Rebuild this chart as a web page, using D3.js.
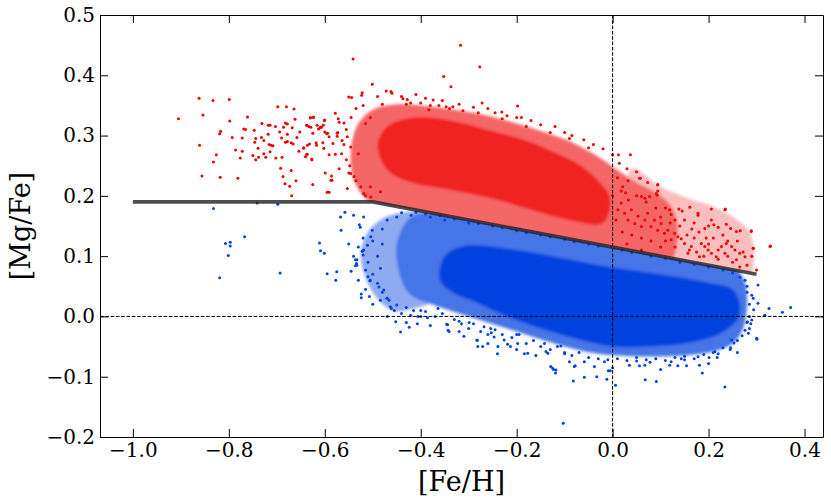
<!DOCTYPE html>
<html><head><meta charset="utf-8">
<script src="https://cdn.jsdelivr.net/npm/d3@7"></script>
<style>body{margin:0;background:#fff}svg{display:block}</style></head>
<body><svg id="c" width="831" height="502"></svg>
<script>
const xTicks=[-1.0,-0.8,-0.6,-0.4,-0.2,0.0,0.2,0.4];
const yTicks=[-0.2,-0.1,0.0,0.1,0.2,0.3,0.4,0.5];
const xDomain=[-1.0685,0.4385];
const yDomain=[-0.2,0.5];
const xLabel="[Fe/H]";
const yLabel="[Mg/Fe]";
const dividerLine=[[-1.0,0.19],[-0.5,0.19],[0.3,0.07]];

// density envelopes (sparse / moderate / saturated)
const redSparse=[[0.04,0.245],[0.10,0.215],[0.16,0.195],[0.21,0.182],[0.255,0.163],[0.285,0.14],[0.295,0.10],[0.28,0.06],[0.15,0.07],[0.05,0.09]];
const redOuter=[[-0.545,0.28],[-0.53,0.32],[-0.50,0.343],[-0.45,0.352],[-0.40,0.35],[-0.33,0.343],[-0.26,0.333],[-0.20,0.32],[-0.14,0.305],[-0.08,0.287],[-0.03,0.265],[0.01,0.243],[0.05,0.222],[0.09,0.205],[0.12,0.185],[0.135,0.15],[0.12,0.09],[0.05,0.1],[0.0,0.105],[-0.10,0.12],[-0.20,0.135],[-0.30,0.15],[-0.40,0.165],[-0.46,0.175],[-0.51,0.192],[-0.54,0.228]];
const redInner=[[-0.49,0.285],[-0.47,0.315],[-0.43,0.328],[-0.38,0.33],[-0.32,0.322],[-0.25,0.307],[-0.18,0.292],[-0.12,0.272],[-0.07,0.252],[-0.03,0.225],[-0.005,0.195],[-0.02,0.155],[-0.08,0.158],[-0.15,0.172],[-0.25,0.195],[-0.34,0.21],[-0.42,0.222],[-0.47,0.243]];
const blueSparse=[[-0.525,0.10],[-0.51,0.14],[-0.48,0.162],[-0.44,0.172],[-0.38,0.17],[-0.36,0.12],[-0.37,0.03],[-0.42,0.012],[-0.46,0.01],[-0.50,0.04]];
const blueOuter=[[-0.44,0.06],[-0.45,0.12],[-0.42,0.165],[-0.36,0.172],[-0.30,0.17],[-0.20,0.155],[-0.10,0.14],[0.0,0.125],[0.10,0.11],[0.20,0.095],[0.25,0.085],[0.275,0.058],[0.28,0.02],[0.272,-0.02],[0.25,-0.045],[0.20,-0.06],[0.12,-0.066],[0.04,-0.066],[-0.03,-0.062],[-0.09,-0.052],[-0.15,-0.038],[-0.22,-0.02],[-0.30,0.0],[-0.37,0.018],[-0.42,0.035]];
const blueInner=[[-0.36,0.06],[-0.35,0.1],[-0.31,0.117],[-0.20,0.11],[-0.10,0.096],[0.0,0.081],[0.10,0.07],[0.20,0.056],[0.25,0.045],[0.265,0.02],[0.26,-0.005],[0.22,-0.03],[0.15,-0.045],[0.08,-0.05],[0.0,-0.05],[-0.08,-0.036],[-0.15,-0.02],[-0.22,0.0],[-0.29,0.025],[-0.33,0.038]];

const redPoints=[[-0.905,0.328],[-0.862,0.362],[-0.833,0.358],[-0.799,0.360],[-0.854,0.334],[-0.861,0.284],[-0.856,0.233],[-0.832,0.256],[-0.826,0.268],[-0.818,0.231],[-0.819,0.303],[-0.817,0.307],[-0.798,0.324],[-0.793,0.297],[-0.786,0.276],[-0.781,0.229],[-0.776,0.263],[-0.772,0.274],[-0.772,0.296],[-0.769,0.311],[-0.765,0.310],[-0.761,0.331],[-0.750,0.267],[-0.747,0.309],[-0.746,0.289],[-0.744,0.295],[-0.744,0.260],[-0.739,0.279],[-0.738,0.264],[-0.732,0.297],[-0.731,0.320],[-0.727,0.292],[-0.727,0.270],[-0.723,0.264],[-0.718,0.317],[-0.714,0.317],[-0.718,0.302],[-0.716,0.285],[-0.712,0.284],[-0.708,0.283],[-0.714,0.273],[-0.703,0.315],[-0.702,0.263],[-0.698,0.348],[-0.694,0.306],[-0.692,0.246],[-0.690,0.296],[-0.689,0.264],[-0.687,0.232],[-0.686,0.314],[-0.683,0.220],[-0.682,0.321],[-0.678,0.319],[-0.682,0.289],[-0.678,0.290],[-0.680,0.348],[-0.678,0.302],[-0.673,0.216],[-0.670,0.242],[-0.669,0.200],[-0.670,0.288],[-0.666,0.286],[-0.668,0.313],[-0.664,0.344],[-0.662,0.327],[-0.660,0.225],[-0.658,0.297],[-0.654,0.274],[-0.652,0.306],[-0.644,0.279],[-0.640,0.265],[-0.637,0.269],[-0.637,0.317],[-0.633,0.315],[-0.636,0.284],[-0.632,0.286],[-0.630,0.329],[-0.624,0.330],[-0.629,0.314],[-0.627,0.261],[-0.625,0.219],[-0.625,0.304],[-0.618,0.288],[-0.617,0.284],[-0.613,0.311],[-0.610,0.313],[-0.607,0.314],[-0.603,0.317],[-0.604,0.288],[-0.602,0.279],[-0.600,0.306],[-0.596,0.303],[-0.594,0.304],[-0.591,0.298],[-0.600,0.326],[-0.599,0.238],[-0.595,0.206],[-0.591,0.268],[-0.587,0.226],[-0.586,0.233],[-0.583,0.287],[-0.578,0.337],[-0.578,0.269],[-0.574,0.299],[-0.573,0.305],[-0.572,0.328],[-0.570,0.322],[-0.553,0.212],[-0.550,0.238],[-0.550,0.364],
[-0.317,0.450],[-0.541,0.427],[-0.277,0.414],[-0.352,0.398],[-0.337,0.381],[-0.501,0.385],[-0.272,0.354],[-0.198,0.349],[-0.231,0.339],[-0.190,0.330],[-0.472,0.374],[-0.462,0.373],[-0.522,0.371],[-0.523,0.367],[-0.544,0.363],[-0.374,0.359],[-0.362,0.350],[-0.347,0.348],[-0.333,0.348],[-0.312,0.341],[-0.437,0.361],[-0.428,0.360],[-0.421,0.354],[-0.400,0.354],[-0.383,0.343],[-0.630,0.330],[-0.623,0.331],[-0.638,0.317],[-0.616,0.317],[-0.609,0.314],[-0.601,0.325],[-0.644,0.280],[-0.637,0.269],[-0.627,0.260],[-0.585,0.226],[-0.591,0.206],[-0.546,0.237],[-0.539,0.232],[-0.560,0.321],[-0.519,0.204],[-0.505,0.215],[-0.504,0.198],[-0.484,0.207],[-0.574,0.304],[-0.564,0.292],[-0.553,0.298],[-0.546,0.281],
[-0.52,0.35],[-0.49,0.365],[-0.46,0.37],[-0.44,0.365],[-0.41,0.368],[-0.39,0.362],[-0.355,0.358],[-0.32,0.352],[-0.29,0.347],[-0.26,0.345],[-0.245,0.338],[-0.22,0.333],[-0.2,0.33],[-0.17,0.325],[-0.15,0.318],[-0.12,0.315],[-0.1,0.305],[-0.085,0.3],[-0.06,0.293],[-0.04,0.285],[-0.02,0.278],[0.0,0.268],[-0.48,0.352],[-0.43,0.352],[-0.38,0.35],[-0.34,0.345],[-0.28,0.338],[-0.23,0.328],[-0.18,0.315],[-0.13,0.305],[-0.09,0.295],[-0.05,0.28],[-0.545,0.33],[-0.535,0.345],[-0.555,0.31],[-0.56,0.285],[-0.555,0.26],[-0.548,0.25],[-0.535,0.225],[-0.525,0.215],[-0.515,0.2],[-0.53,0.27],[-0.565,0.27],[-0.57,0.245],[-0.515,0.32],[-0.505,0.33],
[0.012,0.268],[0.037,0.268],[0.014,0.254],[0.032,0.225],[0.058,0.229],[0.073,0.222],[0.094,0.219],[0.094,0.208],[0.093,0.201],[0.138,0.178],[0.161,0.181],[0.206,0.178],[0.235,0.178],[0.192,0.146],[0.211,0.152],[0.220,0.148],[0.246,0.146],[0.266,0.142],[0.289,0.142],[0.329,0.117],[0.293,0.113],[0.300,0.077],
[0.021,0.215],[0.018,0.208],[0.027,0.205],[0.033,0.193],[0.060,0.199],[0.067,0.196],[0.070,0.190],[0.077,0.199],[0.119,0.177],[0.122,0.169],[0.178,0.168],[0.276,0.099],[0.265,0.082],[0.258,0.094],[0.272,0.107],[0.255,0.110],[0.248,0.116],[0.237,0.121],[0.227,0.116],[0.234,0.105],[0.220,0.110],[0.216,0.099],[0.206,0.105],[0.199,0.110],[0.192,0.116],[0.185,0.121],[0.181,0.099],[0.175,0.107],[0.164,0.116],[0.157,0.105],[0.150,0.121],[0.143,0.129],[0.136,0.132],[0.129,0.138],[0.122,0.127],[0.115,0.143],[0.108,0.138],[0.101,0.154],[0.094,0.143],[0.087,0.160],[0.080,0.149],[0.073,0.171],[0.067,0.160],[0.060,0.149],[0.053,0.166],[0.046,0.154],[0.039,0.177],[0.032,0.160],[0.025,0.171],[0.018,0.188],[0.011,0.177],[0.007,0.160],
[0.056,0.229],[0.094,0.218],[0.091,0.204],[0.178,0.171],[0.234,0.177],[0.206,0.160],[0.237,0.153],[0.258,0.141],[0.289,0.141],[0.293,0.113],[0.328,0.116],
[0.13,0.115],[0.16,0.11],[0.19,0.10],[0.22,0.095],[0.25,0.09],[0.28,0.085],[0.24,0.10],[0.20,0.12],[0.17,0.13],[0.14,0.15],[0.11,0.125],[0.18,0.14],[0.21,0.13],[0.23,0.135],[0.26,0.125],[0.29,0.10],[0.15,0.16],[0.12,0.155],[0.10,0.165],[0.09,0.18],[0.20,0.15],[0.17,0.155],[0.24,0.125],[0.145,0.175],[0.165,0.145],[0.195,0.13],[0.265,0.105],[0.155,0.135],
[0.0,0.2],[0.01,0.23],[0.03,0.245],[0.05,0.2],[0.04,0.135],[0.06,0.13],[0.08,0.125],[0.02,0.14],[0.1,0.115],[0.03,0.12],[0.06,0.11],[0.11,0.18],[0.13,0.16],[0.05,0.24]];

const bluePoints=[[-0.832,0.179],[-0.741,0.188],[-0.698,0.186],[-0.767,0.132],[-0.807,0.121],[-0.797,0.123],[-0.797,0.117],[-0.801,0.101],[-0.819,0.064],[-0.693,0.072],[-0.558,0.173],[-0.567,0.165],[-0.566,0.143],[-0.611,0.122],[-0.609,0.109],[-0.601,0.105],[-0.595,0.071],[-0.575,0.074],
[-0.577,0.060],[-0.540,0.168],[-0.519,0.165],[-0.528,0.152],[-0.526,0.148],[-0.536,0.084],[-0.534,0.088],[-0.533,0.094],[-0.524,0.037],[-0.524,0.031],[-0.507,0.033],[-0.506,0.059],[-0.522,0.108],[-0.520,0.102],[-0.511,0.118],[-0.504,0.132],[-0.501,0.143],[-0.487,0.049],[-0.484,0.080],[-0.477,0.044],[-0.466,0.027],[-0.461,0.013],[-0.450,0.019],[-0.452,-0.009],[-0.442,-0.026],[-0.424,-0.018],[-0.421,0.002],[-0.407,-0.012],[-0.386,-0.002],[-0.364,0.013],[-0.346,-0.013],[-0.343,-0.023],[-0.310,-0.033],[-0.299,-0.010],[-0.283,-0.039],[-0.281,-0.050],[-0.271,-0.050],[-0.268,-0.017],[-0.254,-0.020],[-0.253,-0.027],[-0.240,-0.062],[-0.239,-0.050],[-0.219,-0.046],[-0.213,-0.050],[-0.184,-0.062],[-0.177,-0.061],[-0.139,-0.058],[-0.135,-0.061],[-0.108,-0.049],[-0.125,-0.086],[-0.119,-0.094],
[-0.536,0.094],[-0.533,0.085],[-0.519,0.110],[-0.515,0.077],[-0.510,0.066],[-0.505,0.060],[-0.484,0.027],[-0.463,0.016],[-0.406,0.000],[-0.344,-0.014],[-0.341,-0.025],[-0.282,-0.040],[-0.247,-0.034],[-0.226,-0.039],[-0.198,-0.045],[-0.142,-0.045],[-0.129,-0.083],[-0.080,-0.083],[-0.059,-0.075],[-0.038,-0.083],[-0.017,-0.075],[0.035,-0.081],[0.067,-0.081],[0.122,-0.075],[0.143,-0.070],[0.178,-0.067],[0.213,-0.058],[0.248,-0.039],[0.276,-0.023],[0.290,-0.006],[0.303,0.022],[0.317,0.002],[0.300,-0.036],[0.293,0.030],[0.303,0.052],
[0.234,-0.117],[0.187,-0.094],[0.181,-0.081],[0.091,-0.108],[0.068,-0.105],[0.006,-0.114],[-0.009,-0.090],[-0.005,-0.090],[-0.012,-0.104],[-0.033,-0.100],[-0.059,-0.101],[-0.082,-0.107],[-0.078,-0.082],[-0.103,-0.177],[-0.123,-0.088],[-0.118,-0.089],[0.056,-0.082],[0.078,-0.076],[0.119,-0.081],[0.136,-0.082],[0.154,-0.082],[0.201,-0.068],[0.218,-0.068],[0.246,-0.052],[0.253,-0.044],[0.301,-0.038],[0.283,-0.028],[0.285,-0.020],[0.288,-0.012],[0.281,-0.009],[0.294,0.011],[0.326,0.013],[0.354,0.007],[0.371,0.015],[0.317,0.001],
[-0.45,0.165],[-0.42,0.168],[-0.38,0.165],[-0.35,0.16],[-0.30,0.155],[-0.25,0.15],[-0.20,0.142],[-0.15,0.135],[-0.10,0.128],[-0.05,0.12],[0.02,0.11],[0.08,0.10],[0.14,0.09],[0.20,0.082],[0.25,0.072],[0.28,0.05],[0.29,0.035],[0.285,0.0],[-0.20,-0.03],[-0.10,-0.062],[0.05,-0.074],[0.15,-0.072],[0.22,-0.062],[-0.32,-0.008],[-0.40,0.01],[-0.47,0.03],[-0.49,0.1],[-0.48,0.12],
[-0.5,0.125],[-0.51,0.09],[-0.5,0.07],[-0.49,0.055],[-0.48,0.04],[-0.47,0.03],[-0.455,0.01],[-0.44,0.005],[-0.43,0.015],[-0.415,0.01],[-0.4,0.0],[-0.39,0.008],[-0.37,0.0],[-0.355,0.005],[-0.33,-0.005],[-0.315,-0.012],[-0.3,-0.02],[-0.29,-0.012],[-0.275,-0.025],[-0.26,-0.03],[-0.245,-0.022],[-0.23,-0.03],[-0.21,-0.035],[-0.195,-0.03],[-0.18,-0.045],[-0.165,-0.04],[-0.15,-0.05],[-0.13,-0.055],[-0.115,-0.05],[-0.1,-0.06],[-0.085,-0.065],[-0.07,-0.06],[-0.05,-0.068],[-0.03,-0.07],[-0.01,-0.072],[0.01,-0.07],[0.03,-0.073],[0.05,-0.068],[0.07,-0.072],[0.09,-0.07],[0.11,-0.073],[0.13,-0.068],[0.15,-0.066],[0.17,-0.07],[0.19,-0.063],[0.21,-0.06],[0.23,-0.052],[0.245,-0.055],[0.26,-0.04],[0.27,-0.032],[0.28,-0.01],[0.285,0.02],[0.28,0.04],[0.276,0.06],[0.265,0.065],[-0.48,0.145],[-0.47,0.16],[-0.44,0.172],[-0.41,0.173],[-0.39,0.17],[-0.36,0.167],[-0.33,0.162],[-0.28,0.154],[-0.23,0.147],[-0.18,0.139],[-0.13,0.132],[-0.08,0.124],[-0.03,0.117],[0.04,0.106],[0.11,0.096],[0.17,0.086],[0.23,0.077],[-0.52,0.13],[-0.53,0.115],[-0.54,0.1],[-0.55,0.12],[-0.545,0.075],[-0.53,0.06],[-0.515,0.045],[-0.5,0.02],[-0.47,0.0],[-0.43,-0.01],[-0.38,-0.015],[-0.32,-0.025],[-0.26,-0.045],[-0.2,-0.055],[-0.16,-0.065],[-0.09,-0.075],[0.0,-0.085],[0.1,-0.088],[0.2,-0.078],[0.26,-0.06]];

const L=100,R=823,T=15,B=437;
const red="#ee0000", blue="#0343df";
const tint=(c,k)=>d3.interpolateRgb("#ffffff",c)(k);
const svg=d3.select("#c");
const x=d3.scaleLinear().domain(xDomain).range([L,R]);
const y=d3.scaleLinear().domain(yDomain).range([B,T]);
const fmt=d3.format(".1f");
const font="'DejaVu Serif', 'Liberation Serif', serif";

// half-planes above / below the dividing line (extended to the frame)
const n=dividerLine.length, pA=dividerLine[n-2], pB=dividerLine[n-1];
const slope=(pB[1]-pA[1])/(pB[0]-pA[0]);
const yEnd=pB[1]+slope*(xDomain[1]-pB[0]);
const lineRev=dividerLine.slice().reverse();
const edgeUp=[[xDomain[0],yDomain[1]],[xDomain[1],yDomain[1]],[xDomain[1],yEnd],...lineRev,[xDomain[0],dividerLine[0][1]]];
const edgeDn=[[xDomain[0],yDomain[0]],[xDomain[1],yDomain[0]],[xDomain[1],yEnd],...lineRev,[xDomain[0],dividerLine[0][1]]];
const poly=d3.line().x(d=>x(d[0])).y(d=>y(d[1]));
const defs=svg.append("defs");
defs.append("clipPath").attr("id","clip").append("rect").attr("x",L).attr("y",T).attr("width",R-L).attr("height",B-T);
defs.append("clipPath").attr("id","clipUp").append("path").attr("d",poly(edgeUp)+"Z");
defs.append("clipPath").attr("id","clipDn").append("path").attr("d",poly(edgeDn)+"Z");
defs.append("filter").attr("id","soft").attr("x","-10%").attr("y","-10%").attr("width","120%").attr("height","120%")
  .append("feGaussianBlur").attr("stdDeviation",1.8);

const plot=svg.append("g").attr("clip-path","url(#clip)");
const area=d3.line().x(d=>x(d[0])).y(d=>y(d[1])).curve(d3.curveCatmullRomClosed.alpha(0.5));

const redDens=plot.append("g").attr("clip-path","url(#clipUp)").append("g").attr("filter","url(#soft)");
redDens.append("path").attr("d",area(redSparse)).attr("fill",tint(red,0.26));
redDens.append("path").attr("d",area(redOuter)).attr("fill",tint(red,0.6));
redDens.append("path").attr("d",area(redInner)).attr("fill",tint(red,0.87));
plot.selectAll("circle.r").data(redPoints).join("circle").attr("class","r")
  .attr("cx",d=>x(d[0])).attr("cy",d=>y(d[1])).attr("r",1.5).attr("fill",red);

const blueDens=plot.append("g").attr("clip-path","url(#clipDn)").append("g").attr("filter","url(#soft)");
blueDens.append("path").attr("d",area(blueSparse)).attr("fill",tint(blue,0.45));
blueDens.append("path").attr("d",area(blueOuter)).attr("fill",tint(blue,0.74));
blueDens.append("path").attr("d",area(blueInner)).attr("fill",blue);
plot.selectAll("circle.b").data(bluePoints).join("circle").attr("class","b")
  .attr("cx",d=>x(d[0])).attr("cy",d=>y(d[1])).attr("r",1.5).attr("fill",blue);

plot.append("line").attr("x1",L).attr("x2",R).attr("y1",y(0)).attr("y2",y(0))
  .attr("stroke","#000").attr("stroke-width",1).attr("stroke-dasharray","3.7,1.6");
plot.append("line").attr("x1",x(0)).attr("x2",x(0)).attr("y1",T).attr("y2",B)
  .attr("stroke","#000").attr("stroke-width",1).attr("stroke-dasharray","3.7,1.6");

plot.append("path").attr("d",poly(dividerLine))
  .attr("fill","none").attr("stroke","#222").attr("stroke-opacity",0.8).attr("stroke-width",3.6);

function styleAxis(sel){
  sel.selectAll(".domain").attr("stroke","#000").attr("stroke-width",1);
  sel.selectAll(".tick line").attr("stroke","#000").attr("stroke-width",1);
  sel.selectAll("text").attr("font-family",font).attr("font-size",20).attr("fill","#000");
}
styleAxis(svg.append("g").attr("transform",`translate(0,${B})`)
  .call(d3.axisBottom(x).tickValues(xTicks).tickFormat(fmt).tickSize(-8).tickSizeOuter(0).tickPadding(6)));
styleAxis(svg.append("g").attr("transform",`translate(0,${T})`)
  .call(d3.axisTop(x).tickValues(xTicks).tickFormat("").tickSize(-8).tickSizeOuter(0)));
styleAxis(svg.append("g").attr("transform",`translate(${L},0)`)
  .call(d3.axisLeft(y).tickValues(yTicks).tickFormat(fmt).tickSize(-8).tickSizeOuter(0).tickPadding(5)));
styleAxis(svg.append("g").attr("transform",`translate(${R},0)`)
  .call(d3.axisRight(y).tickValues(yTicks).tickFormat("").tickSize(-8).tickSizeOuter(0)));

svg.append("text").attr("x",(L+R)/2).attr("y",491).attr("text-anchor","middle")
  .attr("font-family",font).attr("font-size",27).text(xLabel);
svg.append("text").attr("transform",`translate(30,${(T+B)/2}) rotate(-90)`).attr("text-anchor","middle")
  .attr("font-family",font).attr("font-size",27).text(yLabel);
</script></body></html>
